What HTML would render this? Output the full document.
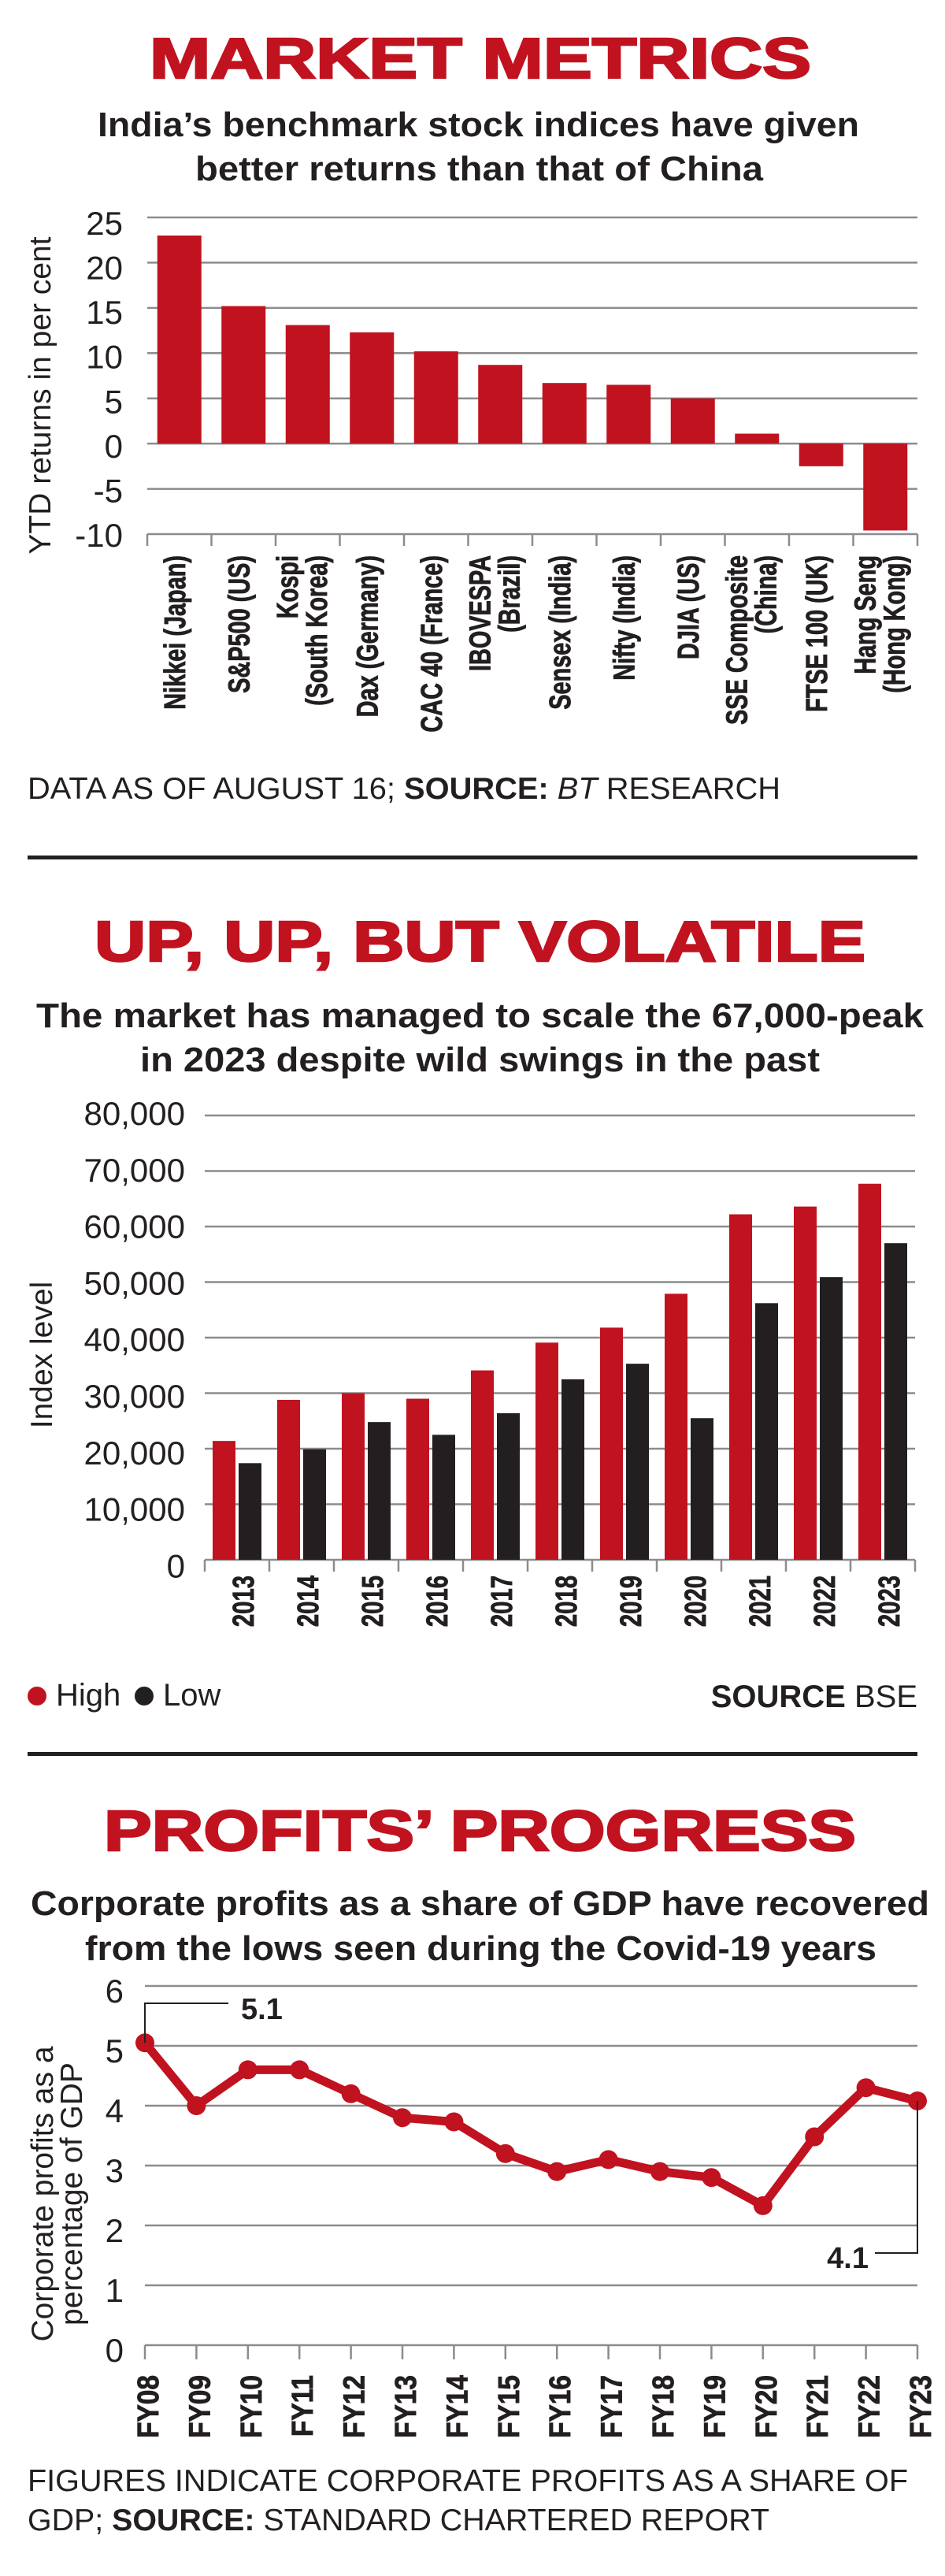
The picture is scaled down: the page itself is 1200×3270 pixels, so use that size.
<!DOCTYPE html>
<html><head><meta charset="utf-8">
<style>
html,body{margin:0;padding:0;background:#fff;}
svg{display:block;}
text{font-family:"Liberation Sans",sans-serif;}
.ttl{font-weight:bold;fill:#c1121f;stroke:#c1121f;stroke-width:2.5px;font-size:72px;}
.sub{font-weight:bold;fill:#231f20;font-size:44px;}
.tick{font-size:42px;fill:#231f20;}
.ytitle{font-size:39px;fill:#231f20;}
.xl{font-weight:bold;font-size:38px;fill:#231f20;stroke:#231f20;stroke-width:0.9px;}
.foot{font-size:39px;fill:#231f20;}
.grid{stroke:#8c8c8c;stroke-width:2.5;}
</style></head>
<body>
<svg id="root" width="1200" height="3270" viewBox="0 0 1200 3270" xmlns="http://www.w3.org/2000/svg">
<rect width="1200" height="3270" fill="#fff"/>

<!-- Chart 1 -->
<g id="c1">
<text class="ttl" x="190" y="99" textLength="840" lengthAdjust="spacingAndGlyphs">MARKET METRICS</text>
<text class="sub" x="124" y="173" textLength="967" lengthAdjust="spacingAndGlyphs">India’s benchmark stock indices have given</text>
<text class="sub" x="248" y="229" textLength="721" lengthAdjust="spacingAndGlyphs">better returns than that of China</text>
<text class="ytitle" transform="translate(64,502) rotate(-90)" text-anchor="middle">YTD returns in per cent</text>
<g id="c1grid"></g><g id="c1bars"></g><g id="c1x"></g>
<text class="foot" x="35" y="1014" textLength="956" lengthAdjust="spacingAndGlyphs">DATA AS OF AUGUST 16; <tspan font-weight="bold">SOURCE:</tspan> <tspan font-style="italic">BT</tspan> RESEARCH</text>
</g>
<rect x="35" y="1086" width="1130" height="5" fill="#231f20"/>

<!-- Chart 2 -->
<g id="c2">
<text class="ttl" x="120" y="1220" textLength="979" lengthAdjust="spacingAndGlyphs">UP, UP, BUT VOLATILE</text>
<text class="sub" x="46" y="1304" textLength="1127" lengthAdjust="spacingAndGlyphs">The market has managed to scale the 67,000-peak</text>
<text class="sub" x="178" y="1360" textLength="863" lengthAdjust="spacingAndGlyphs">in 2023 despite wild swings in the past</text>
<text class="ytitle" transform="translate(66,1720) rotate(-90)" text-anchor="middle">Index level</text>
<g id="c2grid"></g><g id="c2bars"></g><g id="c2x"></g>
<circle cx="47" cy="2153" r="12" fill="#c1121f"/>
<text x="71" y="2165" font-size="40" fill="#231f20">High</text>
<circle cx="183" cy="2153" r="12" fill="#231f20"/>
<text x="207" y="2165" font-size="40" fill="#231f20">Low</text>
<text x="1165" y="2167" font-size="40" fill="#231f20" text-anchor="end"><tspan font-weight="bold">SOURCE</tspan> BSE</text>
</g>
<rect x="35" y="2224" width="1130" height="5" fill="#231f20"/>

<!-- Chart 3 -->
<g id="c3">
<text class="ttl" x="132" y="2349" textLength="955" lengthAdjust="spacingAndGlyphs">PROFITS’ PROGRESS</text>
<text class="sub" x="39" y="2431" textLength="1141" lengthAdjust="spacingAndGlyphs">Corporate profits as a share of GDP have recovered</text>
<text class="sub" x="108" y="2488" textLength="1005" lengthAdjust="spacingAndGlyphs">from the lows seen during the Covid-19 years</text>
<text class="ytitle" transform="translate(67,2785) rotate(-90)" text-anchor="middle">Corporate profits as a</text>
<text class="ytitle" transform="translate(104,2785) rotate(-90)" text-anchor="middle">percentage of GDP</text>
<g id="c3grid"></g><g id="c3line"></g><g id="c3x"></g>
<text class="foot" x="35" y="3162" textLength="1118" lengthAdjust="spacingAndGlyphs">FIGURES INDICATE CORPORATE PROFITS AS A SHARE OF</text>
<text class="foot" x="35" y="3212" textLength="942" lengthAdjust="spacingAndGlyphs">GDP; <tspan font-weight="bold">SOURCE:</tspan> STANDARD CHARTERED REPORT</text>
</g>
</svg>
<script>
const NS = "http://www.w3.org/2000/svg";
// ---- Chart 1 data ----
const c1Labels = [["Nikkei (Japan)"],["S&P500 (US)"],["Kospi","(South Korea)"],["Dax (Germany)"],["CAC 40 (France)"],["IBOVESPA","(Brazil)"],["Sensex (India)"],["Nifty (India)"],["DJIA (US)"],["SSE Composite","(China)"],["FTSE 100 (UK)"],["Hang Seng","(Hong Kong)"]];
const c1Values = [23, 15.2, 13.1, 12.3, 10.2, 8.7, 6.7, 6.5, 5.0, 1.1, -2.5, -9.6];
const c1Ticks = [25, 20, 15, 10, 5, 0, -5, -10];
// ---- Chart 2 data ----
const c2Years = ["2013","2014","2015","2016","2017","2018","2019","2020","2021","2022","2023"];
const c2High = [21400, 28800, 30000, 29000, 34100, 39100, 41800, 47900, 62200, 63600, 67700];
const c2Low = [17400, 19900, 24800, 22500, 26400, 32500, 35300, 25500, 46200, 50900, 57000];
const c2Ticks = [80000, 70000, 60000, 50000, 40000, 30000, 20000, 10000, 0];
const c2TickLabels = ["80,000","70,000","60,000","50,000","40,000","30,000","20,000","10,000","0"];
// ---- Chart 3 data ----
const c3Years = ["FY08","FY09","FY10","FY11","FY12","FY13","FY14","FY15","FY16","FY17","FY18","FY19","FY20","FY21","FY22","FY23"];
const c3Values = [5.05, 4.0, 4.6, 4.6, 4.2, 3.8, 3.73, 3.2, 2.9, 3.1, 2.9, 2.8, 2.33, 3.48, 4.3, 4.08];
const c3Ticks = [6, 5, 4, 3, 2, 1, 0];
const c3FirstLabel = "5.1";
const c3LastLabel = "4.1";

function mk(tag, parent, attrs){
  const e = document.createElementNS(NS, tag);
  for (const k in attrs) e.setAttribute(k, attrs[k]);
  parent.appendChild(e);
  return e;
}
const RED = "#c1121f", DARK = "#231f20";

// ===== Chart 1 =====
(function(){
  const L = 187, R = 1165, yMax = 25, yMin = -10, top = 276, bot = 678;
  const y = v => top + (yMax - v) * (bot - top) / (yMax - yMin);
  const bw = (R - L) / c1Values.length;
  const xC = i => L + bw * (i + 0.5);
  const g = document.getElementById('c1grid');
  c1Ticks.forEach((t, k) => {
    const ln = mk('line', g, {x1: L, x2: R, y1: y(t), y2: y(t), class: 'grid'});
    
    
    const tx = mk('text', g, {x: 156, y: y(t) + 22 - k * 0.85, class: 'tick', 'text-anchor': 'end'});
    tx.textContent = String(t);
    
    
  });
  for (let i = 0; i <= c1Values.length; i++) {
    const tk = mk('line', g, {x1: L + bw * i, x2: L + bw * i, y1: bot, y2: bot + 15, class: 'grid'});
    
    
  }
  const b = document.getElementById('c1bars');
  c1Values.forEach((v, i) => {
    const y0 = y(0), yv = y(v);
    const r = mk('rect', b, {x: xC(i) - 28, width: 56, y: Math.min(y0, yv), height: Math.abs(yv - y0), fill: RED});
    
    
  });
  const xg = document.getElementById('c1x');
  c1Labels.forEach((lines, i) => {
    const offs = lines.length === 1 ? [7] : [-13, 24];
    lines.forEach((s, j) => {
      const t = mk('text', xg, {class: 'xl', 'text-anchor': 'end', transform: 'translate(' + (xC(i) + offs[j]) + ',705) rotate(-90) scale(0.76,1)'});
      t.textContent = s;
      
      
    });
  });
})();

// ===== Chart 2 =====
(function(){
  const L = 260, R = 1162, top = 1416, bot = 1980, yMax = 80000;
  const y = v => bot - v * (bot - top) / yMax;
  const bw = (R - L) / c2Years.length;
  const g = document.getElementById('c2grid');
  c2Ticks.forEach((t, k) => {
    const ln = mk('line', g, {x1: L, x2: R, y1: y(t), y2: y(t), class: 'grid'});
    
    
    const tx = mk('text', g, {x: 235, y: y(t) + 12 + k * 1.3, class: 'tick', 'text-anchor': 'end', 'font-size': 44});
    tx.textContent = c2TickLabels[k];
    
    
  });
  for (let i = 0; i <= c2Years.length; i++) {
    const tk = mk('line', g, {x1: L + bw * i, x2: L + bw * i, y1: bot, y2: bot + 15, class: 'grid'});
    
    
  }
  const b = document.getElementById('c2bars');
  c2Years.forEach((yr, i) => {
    const x0 = L + bw * i;
    const h = mk('rect', b, {x: x0 + 10, width: 29, y: y(c2High[i]), height: bot - y(c2High[i]), fill: RED});
    
    
    const l = mk('rect', b, {x: x0 + 43, width: 29, y: y(c2Low[i]), height: bot - y(c2Low[i]), fill: DARK});
    
    
  });
  const xg = document.getElementById('c2x');
  c2Years.forEach((yr, i) => {
    const t = mk('text', xg, {class: 'xl', 'text-anchor': 'end', 'font-size': 44, transform: 'translate(' + (L + bw * (i + 0.5) + 21) + ',2000) rotate(-90) scale(0.77,1)'});
    t.textContent = yr;
    
    
  });
})();

// ===== Chart 3 =====
(function(){
  const L = 184, R = 1165, top = 2521, bot = 2977, yMax = 6;
  const y = v => bot - v * (bot - top) / yMax;
  const step = (R - L) / (c3Values.length - 1);
  const x = i => L + step * i;
  const g = document.getElementById('c3grid');
  c3Ticks.forEach(t => {
    const ln = mk('line', g, {x1: L, x2: R, y1: y(t), y2: y(t), class: 'grid'});
    
    
    const tx = mk('text', g, {x: 157, y: y(t) + 21, class: 'tick', 'text-anchor': 'end'});
    tx.textContent = String(t);
    
    
  });
  c3Values.forEach((v, i) => {
    const tk = mk('line', g, {x1: x(i), x2: x(i), y1: bot, y2: bot + 18, class: 'grid'});
    
    
  });
  const lg = document.getElementById('c3line');
  const pts = c3Values.map((v, i) => x(i) + ',' + y(v)).join(' ');
  const pl = mk('polyline', lg, {points: pts, fill: 'none', stroke: RED, 'stroke-width': 11, 'stroke-linejoin': 'round'});
  
  
  c3Values.forEach((v, i) => {
    const c = mk('circle', lg, {cx: x(i), cy: y(v), r: 12, fill: RED});
    
    
  });
  const n = c3Values.length - 1;
  const a1 = mk('polyline', lg, {points: x(0) + ',' + y(c3Values[0]) + ' ' + x(0) + ',2543 290,2543', fill: 'none', stroke: DARK, 'stroke-width': 2});
  
  
  const t1 = mk('text', lg, {x: 306, y: 2563, 'font-size': 38, 'font-weight': 'bold', fill: DARK});
  t1.textContent = c3FirstLabel;
  
  
  const a2 = mk('polyline', lg, {points: x(n) + ',' + y(c3Values[n]) + ' ' + x(n) + ',2860 1111,2860', fill: 'none', stroke: DARK, 'stroke-width': 2});
  
  
  const t2 = mk('text', lg, {x: 1103, y: 2879, 'font-size': 38, 'font-weight': 'bold', fill: DARK, 'text-anchor': 'end'});
  t2.textContent = c3LastLabel;
  
  
  const xg = document.getElementById('c3x');
  c3Years.forEach((yr, i) => {
    const t = mk('text', xg, {class: 'xl', 'text-anchor': 'end', transform: 'translate(' + (x(i) + 17) + ',3015) rotate(-90) scale(0.88,1)'});
    t.textContent = yr;
    
    
  });
})();
</script>
</body></html>
